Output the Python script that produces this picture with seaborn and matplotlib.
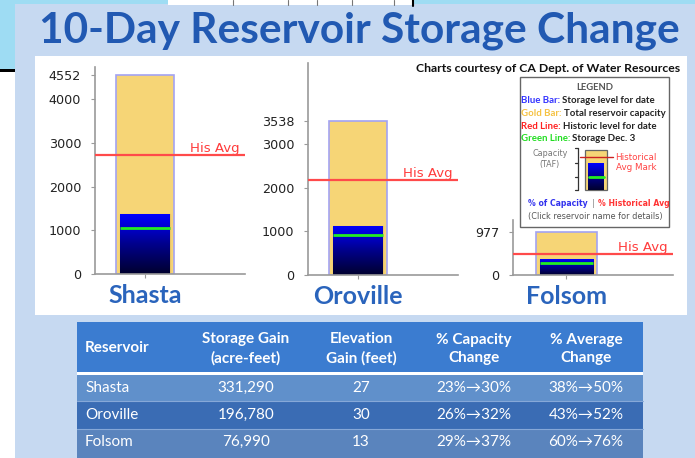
import numpy as np
import matplotlib.pyplot as plt
import seaborn as sns
from matplotlib.patches import Rectangle
from matplotlib.colors import LinearSegmentedColormap

# dados (mil acre-feet)
reservoirs = ['Shasta', 'Oroville', 'Folsom']
capacity = [4552, 3538, 977]
storage_now = [1366, 1132, 361]
storage_dec3 = [1047, 920, 283]
hist_avg = [2732, 2177, 475]
y_ticks = [[0, 1000, 2000, 3000, 4000, 4552],
           [0, 1000, 2000, 3000, 3538],
           [0, 977]]
y_tops = [4740, 4870, 1260]

# tabela
header = ['Reservoir', 'Storage Gain\n(acre-feet)', 'Elevation\nGain (feet)',
          '% Capacity\nChange', '% Average\nChange']
storage_gain = ['331,290', '196,780', '76,990']
elev_gain = ['27', '30', '13']
cap_change = ['23%→30%', '26%→32%', '29%→37%']
avg_change = ['38%→50%', '43%→52%', '60%→76%']

W, H = 695, 458
sns.set_style('ticks')
plt.rcParams['font.family'] = ['DejaVu Sans']
LATO = ['Lato', 'DejaVu Sans']

GOLD = '#f6d576'
blues = LinearSegmentedColormap.from_list('azul', ['#00002e', '#00008c', '#0000ff'])

fig = plt.figure(figsize=(W / 100, H / 100), dpi=100, facecolor='#c6d9f1')
bg = fig.add_axes([0, 0, 1, 1])
bg.set_xlim(0, W)
bg.set_ylim(H, 0)
bg.axis('off')


def box(x0, y0, x1, y1, **kw):
    bg.add_patch(Rectangle((x0, y0), x1 - x0, y1 - y0, **kw))


# moldura / restos da captura de tela
box(0, 0, W, 4, color='#9edcf3', lw=0)
box(0, 0, 15, 70, color='#9edcf3', lw=0)
box(0, 72, 15, H, color='white', lw=0)
box(0, 69, 15, 72, color='black', lw=0)
box(168, 0, 414, 5, color='white', lw=0)
for xv in [233, 288, 317, 352, 394]:
    bg.plot([xv, xv], [0, 5], color='#777777', lw=0.8)
bg.plot([413, 413], [0, 6], color='black', lw=1.5)

# título
bg.text(359, 43, '10-Day Reservoir Storage Change', ha='center', va='baseline',
        fontsize=30.5, fontweight='bold', family=LATO, color='#2159b2')

# painel branco
box(35, 56, 687, 315, color='white', lw=0)
bg.text(680, 72, 'Charts courtesy of CA Dept. of Water Resources', ha='right',
        va='baseline', fontsize=8.8, fontweight='bold', family=LATO, color='#111111')

# gráficos
rects = [(95, 67, 245, 274), (308, 63, 458, 275), (513, 220, 673, 275)]
for i, name in enumerate(reservoirs):
    x0, y0, x1, y1 = rects[i]
    ax = fig.add_axes([x0 / W, 1 - y1 / H, (x1 - x0) / W, (y1 - y0) / H])
    ax.patch.set_alpha(0)
    sns.barplot(x=[name], y=[capacity[i]], color=GOLD, width=0.8, saturation=1,
                edgecolor='#a3a3f2', linewidth=1.2, ax=ax)
    sns.barplot(x=[name], y=[storage_now[i]], color='#0000dd', width=0.7, saturation=1,
                edgecolor='#e9c46a', linewidth=1, ax=ax)
    bar = ax.patches[-1]
    grad = np.linspace(0, 1, 256).reshape(-1, 1)
    im = ax.imshow(grad, cmap=blues, origin='lower', aspect='auto',
                   extent=[bar.get_x(), bar.get_x() + bar.get_width(), 0, bar.get_height()],
                   zorder=bar.get_zorder() + 0.5)
    im.set_clip_path(bar)
    ax.hlines(storage_dec3[i], bar.get_x(), bar.get_x() + bar.get_width(),
              color='#22ee22', lw=2, zorder=5)
    ax.axhline(hist_avg[i], color='#ff4a4a', lw=1.6, zorder=6)
    ax.annotate('His Avg', xy=(0.965, hist_avg[i]), xycoords=('axes fraction', 'data'),
                xytext=(0, 2), textcoords='offset points', ha='right', va='baseline',
                color='#ff3c3c', fontsize=9.6)
    ax.set_xlim(-0.7, 1.4)
    ax.set_ylim(0, y_tops[i])
    ax.set_yticks(y_ticks[i])
    ax.set_xlabel('')
    ax.set_ylabel('')
    sns.despine(ax=ax)
    for s in ['left', 'bottom']:
        ax.spines[s].set_color('#9a9a9a')
        ax.spines[s].set_linewidth(1.2)
    ax.tick_params(axis='y', length=3, color='#9a9a9a', labelsize=9.2, labelcolor='#222222', pad=7)
    ax.tick_params(axis='x', length=3, color='#9a9a9a', pad=4)
    for t in ax.get_xticklabels():
        t.set_fontsize(18)
        t.set_fontweight('bold')
        t.set_color('#2a64bc')
        t.set_family(LATO)

# legenda
box(520, 77, 669, 227, facecolor='white', edgecolor='#666666', lw=1)
bg.text(595, 87, 'LEGEND', ha='center', va='center', fontsize=6.8, fontweight='bold',
        color='#555555', family=LATO)
leg_lines = [('Blue Bar:', '#3333ff', 'Storage level for date', 103),
             ('Gold Bar:', '#f5c242', 'Total reservoir capacity', 116),
             ('Red Line:', '#ff2222', 'Historic level for date', 129),
             ('Green Line:', '#22dd22', 'Storage Dec. 3', 141)]
fig.canvas.draw()
for lab, col, desc, yb in leg_lines:
    t = bg.text(521, yb, lab, ha='left', va='baseline', fontsize=6.9, fontweight='bold',
                color=col, family=LATO)
    bb = t.get_window_extent(renderer=fig.canvas.get_renderer())
    bg.text(bb.x1 + 2, yb, desc, ha='left', va='baseline', fontsize=6.9,
            fontweight='bold', color='#222222', family=LATO)

bg.text(550, 154, 'Capacity', ha='center', va='center', fontsize=5.8, color='#777777')
bg.text(550, 165, '(TAF)', ha='center', va='center', fontsize=5.8, color='#777777')
bg.plot([578, 578], [148, 190], color='#333333', lw=0.9)
for yt in [148, 163, 177, 190]:
    bg.plot([575, 578], [yt, yt], color='#333333', lw=0.9)
box(585, 150, 607, 190, facecolor=GOLD, edgecolor='#666666', lw=0.9)
mini = bg.imshow(np.linspace(0, 1, 64).reshape(-1, 1), cmap=blues, origin='lower',
                 aspect='auto', extent=[588, 604, 190, 163], zorder=3)
bg.plot([580, 613], [157, 157], color='#cc2222', lw=1, zorder=4)
bg.plot([589, 604], [177, 177], color='#22ee22', lw=2, zorder=4)
bg.text(636, 157, 'Historical', ha='center', va='center', fontsize=6.3, color='#ff4444')
bg.text(636, 168, 'Avg Mark', ha='center', va='center', fontsize=6.3, color='#ff4444')
bg.text(588, 204, '% of Capacity', ha='right', va='center', fontsize=5.6,
        fontweight='bold', color='#3333ee')
bg.text(593, 204, '|', ha='center', va='center', fontsize=5.6, color='#777777')
bg.text(598, 204, '% Historical Avg', ha='left', va='center', fontsize=5.6,
        fontweight='bold', color='#ff3333')
bg.text(595, 216, '(Click reservoir name for details)', ha='center', va='center',
        fontsize=5.9, color='#555555')
bg.set_xlim(0, W)
bg.set_ylim(H, 0)

# tabela
box(77, 322, 643, 372, color='#3b7cd0', lw=0)
box(77, 372, 643, 374.5, color='white', lw=0)
row_y = [(374.5, 401), (401, 429), (429, H)]
row_cols = ['#6090cb', '#3a6cb4', '#5a84bd']
for (ya, yb_), c in zip(row_y, row_cols):
    box(77, ya, 643, yb_, color=c, lw=0)
for yl in [401, 429]:
    bg.plot([77, 643], [yl, yl], color='#86a8d8', lw=0.8)

col_x = [85, 246, 361, 474, 586]
bg.text(col_x[0], 348, header[0], ha='left', va='center', fontsize=11,
        fontweight='bold', color='white', family=LATO)
for cx, htxt in zip(col_x[1:], header[1:]):
    bg.text(cx, 349, htxt, ha='center', va='center', fontsize=11, fontweight='bold',
            color='white', family=LATO, linespacing=1.4)

row_centers = [387.5, 415, 442]
for r in range(3):
    vals = [reservoirs[r], storage_gain[r], elev_gain[r], cap_change[r], avg_change[r]]
    for j, v in enumerate(vals):
        bg.text(col_x[j], row_centers[r], v, ha='left' if j == 0 else 'center',
                va='center', fontsize=11, color='white', family=LATO)

fig.savefig('out.png', dpi=100, facecolor=fig.get_facecolor())
